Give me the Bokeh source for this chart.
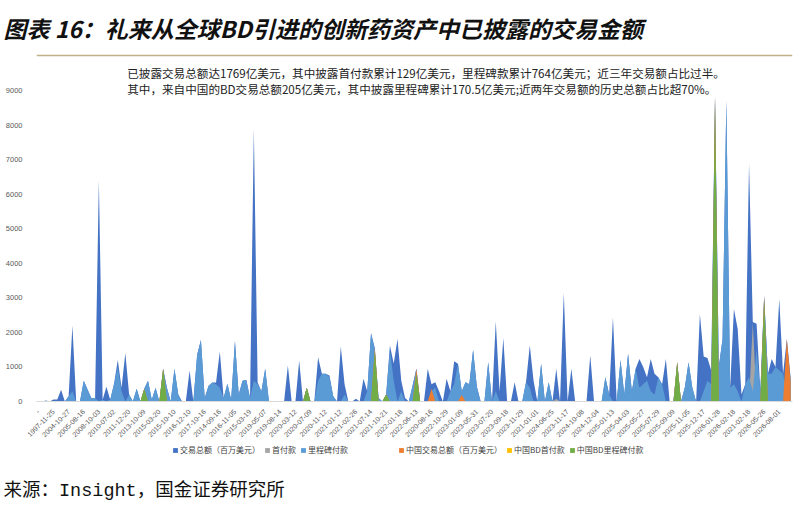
import math
from bokeh.plotting import figure
from bokeh.layouts import column
from bokeh.models import (Range1d, FixedTicker, Legend, LegendItem, Label, Title,
                          Span, ColumnDataSource)
from bokeh.embed import file_html
from bokeh.resources import INLINE

# ---------------- data ----------------
tick_labels = [
    "-", "1997-11-25", "2004-10-27", "2005-08-16", "2008-10-03", "2010-07-02",
    "2011-12-20", "2013-10-09", "2015-03-20", "2015-10-10", "2016-12-10",
    "2017-10-16", "2014-09-16", "2016-11-05", "2015-03-19", "2019-05-07",
    "2019-08-14", "2020-03-12", "2020-07-09", "2020-11-12", "2021-01-12",
    "2021-02-26", "2021-07-14", "2021-10-21", "2022-01-18", "2022-06-13",
    "2020-08-16", "2022-10-29", "2023-01-09", "2023-05-31", "2023-07-20",
    "2023-09-18", "2023-11-29", "2021-01-01", "2024-06-25", "2023-11-17",
    "2024-10-08", "2024-12-04", "2025-01-13", "2025-04-03", "2025-05-27",
    "2025-07-29", "2025-09-09", "2025-11-05", "2025-12-17", "2026-01-28",
    "2026-02-18", "2021-02-18", "2026-05-26", "2026-08-01",
]
LABEL_STEP = 4  # one date label every 4 deals

total = [
    0, 0, 30, 0, 60, 60, 340, 0, 150, 2200,
    0, 0, 600, 350, 100, 100, 6400, 50, 430, 50,
    500, 1200, 400, 1400, 200, 0, 370, 0, 370, 600,
    50, 400, 0, 950, 400, 0, 950, 200, 0, 0,
    900, 0, 1350, 1780, 100, 450, 550, 550, 1450, 100,
    510, 50, 1740, 200, 600, 625, 100, 7900, 550, 300,
    950, 0, 0, 0, 0, 0, 1040, 0, 0, 1185,
    0, 400, 0, 0, 1280, 800, 800, 750, 150, 0,
    1590, 500, 0, 0, 80, 0, 655, 300, 1975, 1550,
    100, 0, 200, 1620, 1100, 1810, 600, 100, 0, 460,
    945, 0, 0, 945, 500, 560, 300, 0, 655, 300,
    1165, 1090, 300, 560, 500, 1490, 430, 0, 0, 1135,
    0, 2320, 300, 1840, 0, 0, 560, 0, 0, 560,
    1620, 600, 0, 1090, 0, 560, 0, 945, 0, 3150,
    0, 945, 0, 0, 0, 0, 1330, 0, 0, 0,
    700, 200, 2440, 0, 1200, 200, 1380, 300, 945, 1230,
    1000, 700, 1230, 800, 700, 500, 1230, 0, 0, 1135,
    0, 400, 1135, 400, 0, 2530, 1300, 1260, 900, 8850,
    1000, 1810, 8700, 400, 2680, 2100, 200, 500, 6900, 2300,
    2250, 300, 3050, 800, 1230, 1000, 2965, 800, 1810, 700,
]

upfront = [
    0, 0, 0, 0, 0, 0, 0, 0, 0, 0,
    0, 0, 0, 0, 0, 0, 0, 0, 0, 0,
    0, 0, 0, 0, 0, 0, 0, 0, 0, 0,
    0, 0, 0, 0, 0, 0, 0, 0, 0, 0,
    0, 0, 0, 0, 0, 0, 0, 0, 0, 0,
    0, 0, 0, 0, 0, 0, 0, 0, 0, 0,
    0, 0, 0, 0, 0, 0, 0, 0, 0, 0,
    0, 0, 0, 0, 0, 0, 0, 0, 0, 0,
    0, 0, 0, 0, 0, 0, 0, 0, 0, 0,
    0, 0, 0, 0, 0, 0, 0, 0, 0, 0,
    0, 0, 0, 0, 0, 0, 0, 0, 0, 0,
    0, 0, 0, 0, 0, 0, 0, 0, 0, 0,
    0, 0, 0, 0, 0, 0, 0, 0, 0, 0,
    0, 0, 0, 0, 0, 0, 0, 80, 0, 0,
    0, 0, 0, 0, 0, 0, 0, 0, 0, 0,
    0, 0, 0, 0, 0, 0, 0, 0, 0, 0,
    0, 0, 0, 0, 0, 0, 0, 0, 0, 0,
    0, 0, 0, 0, 0, 0, 0, 0, 0, 0,
    0, 0, 0, 150, 0, 0, 0, 0, 0, 2290,
    0, 0, 0, 0, 0, 0, 0, 0, 0, 0,
]

milestone = [
    0, 0, 0, 0, 0, 0, 0, 0, 150, 300,
    0, 0, 600, 350, 100, 100, 0, 50, 0, 50,
    500, 1000, 300, 0, 200, 0, 370, 0, 370, 600,
    50, 400, 0, 950, 400, 0, 950, 200, 0, 0,
    0, 0, 1350, 1780, 100, 450, 550, 500, 400, 100,
    510, 50, 1740, 200, 600, 625, 100, 600, 500, 300,
    950, 0, 0, 0, 0, 0, 0, 0, 0, 0,
    0, 400, 0, 0, 600, 800, 800, 700, 150, 0,
    0, 200, 0, 0, 0, 0, 0, 300, 1975, 1500,
    100, 0, 200, 1500, 600, 0, 300, 0, 0, 460,
    945, 0, 0, 0, 300, 400, 0, 0, 0, 300,
    500, 1090, 300, 560, 500, 1490, 430, 0, 0, 1135,
    0, 300, 0, 0, 0, 0, 0, 0, 0, 560,
    400, 0, 0, 1090, 0, 560, 0, 0, 0, 0,
    0, 0, 0, 0, 0, 0, 0, 0, 0, 0,
    700, 200, 0, 0, 1200, 200, 1380, 300, 945, 400,
    500, 600, 300, 200, 700, 500, 0, 0, 0, 1135,
    0, 400, 1135, 400, 0, 0, 300, 600, 500, 8850,
    1000, 1810, 8700, 400, 500, 300, 0, 500, 700, 300,
    1500, 300, 3050, 800, 800, 1000, 900, 800, 300, 700,
]

cn_total = [
    0, 0, 0, 0, 0, 0, 0, 0, 0, 0,
    0, 0, 0, 0, 0, 0, 0, 0, 0, 0,
    0, 0, 0, 0, 0, 0, 0, 0, 370, 0,
    0, 0, 0, 950, 0, 0, 0, 0, 0, 0,
    0, 0, 0, 0, 0, 0, 0, 0, 0, 0,
    0, 0, 0, 0, 0, 0, 0, 0, 0, 0,
    0, 0, 0, 0, 0, 0, 0, 0, 0, 0,
    0, 400, 0, 0, 0, 0, 0, 0, 0, 0,
    0, 0, 0, 0, 0, 0, 0, 0, 0, 1550,
    0, 0, 200, 0, 0, 0, 0, 0, 0, 0,
    945, 0, 0, 0, 366, 0, 0, 0, 0, 0,
    0, 0, 190, 0, 0, 0, 0, 0, 0, 0,
    0, 0, 0, 0, 0, 0, 0, 0, 0, 0,
    0, 0, 0, 0, 0, 0, 0, 0, 0, 0,
    0, 0, 0, 0, 0, 0, 0, 0, 0, 0,
    0, 0, 0, 0, 0, 0, 0, 0, 0, 0,
    0, 0, 0, 0, 0, 0, 0, 0, 0, 1135,
    0, 0, 0, 0, 0, 0, 0, 0, 0, 8850,
    0, 0, 0, 0, 0, 0, 0, 0, 0, 0,
    0, 0, 3050, 0, 0, 0, 0, 0, 1810, 600,
]

cn_upfront = [
    0, 0, 0, 0, 0, 0, 0, 0, 0, 0,
    0, 0, 0, 0, 0, 0, 0, 0, 0, 0,
    0, 0, 0, 0, 0, 0, 0, 0, 0, 0,
    0, 0, 0, 0, 0, 0, 0, 0, 0, 0,
    0, 0, 0, 0, 0, 0, 0, 0, 0, 0,
    0, 0, 0, 0, 0, 0, 0, 0, 0, 0,
    0, 0, 0, 0, 0, 0, 0, 0, 0, 0,
    0, 0, 0, 0, 0, 0, 0, 0, 0, 0,
    0, 0, 0, 0, 0, 0, 0, 0, 0, 0,
    0, 0, 0, 0, 0, 0, 0, 0, 0, 0,
    0, 0, 0, 0, 0, 0, 0, 0, 0, 0,
    0, 0, 0, 0, 0, 0, 0, 0, 0, 0,
    0, 0, 0, 0, 0, 0, 0, 0, 0, 0,
    0, 0, 0, 0, 0, 0, 0, 0, 0, 0,
    0, 0, 0, 0, 0, 0, 0, 0, 0, 0,
    0, 0, 0, 0, 0, 0, 0, 0, 0, 0,
    0, 0, 0, 0, 0, 0, 0, 0, 0, 0,
    0, 0, 0, 0, 0, 0, 0, 0, 0, 0,
    0, 0, 0, 0, 0, 0, 0, 0, 0, 0,
    0, 0, 0, 0, 0, 0, 0, 0, 0, 0,
]

cn_milestone = [
    0, 0, 0, 0, 0, 0, 0, 0, 0, 0,
    0, 0, 0, 0, 0, 0, 0, 0, 0, 0,
    0, 0, 0, 0, 0, 0, 0, 0, 370, 0,
    0, 0, 0, 950, 0, 0, 0, 0, 0, 0,
    0, 0, 0, 0, 0, 0, 0, 0, 0, 0,
    0, 0, 0, 0, 0, 0, 0, 0, 0, 0,
    0, 0, 0, 0, 0, 0, 0, 0, 0, 0,
    0, 400, 0, 0, 0, 0, 0, 0, 0, 0,
    0, 0, 0, 0, 0, 0, 0, 0, 0, 1475,
    0, 0, 200, 0, 0, 0, 0, 0, 0, 0,
    800, 0, 0, 0, 0, 0, 0, 0, 0, 0,
    0, 0, 0, 0, 0, 0, 0, 0, 0, 0,
    0, 0, 0, 0, 0, 0, 0, 0, 0, 0,
    0, 0, 0, 0, 0, 0, 0, 0, 0, 0,
    0, 0, 0, 0, 0, 0, 0, 0, 0, 0,
    0, 0, 0, 0, 0, 0, 0, 0, 0, 0,
    0, 0, 0, 0, 0, 0, 0, 0, 0, 1135,
    0, 0, 0, 0, 0, 0, 0, 0, 0, 8700,
    0, 0, 0, 0, 0, 0, 0, 0, 0, 0,
    0, 0, 2950, 0, 0, 0, 0, 0, 0, 0,
]

series_names = ["交易总额（百万美元）", "首付款", "里程碑付款",
                "中国交易总额（百万美元）", "中国BD首付款", "中国BD里程碑付款"]
series_keys = ["total", "upfront", "milestone", "cn_total", "cn_upfront", "cn_milestone"]
series_colors = ["#4472C4", "#A5A5A5", "#5B9BD5", "#ED7D31", "#FFC000", "#70AD47"]

title_text = "图表 16：礼来从全球BD引进的创新药资产中已披露的交易金额"
note_lines = [
    "已披露交易总额达1769亿美元，其中披露首付款累计129亿美元，里程碑款累计764亿美元；近三年交易额占比过半。",
    "其中，来自中国的BD交易总额205亿美元，其中披露里程碑累计170.5亿美元;近两年交易额的历史总额占比超70%。",
]
source_text = "来源：Insight，国金证券研究所"
y_ticks = [0, 1000, 2000, 3000, 4000, 5000, 6000, 7000, 8000, 9000]

# ---------------- build ----------------
n = len(total)
for s in (upfront, milestone, cn_total, cn_upfront, cn_milestone):
    assert len(s) == n
xs = list(range(n))
src = ColumnDataSource(dict(x=xs, total=total, upfront=upfront, milestone=milestone,
                            cn_total=cn_total, cn_upfront=cn_upfront,
                            cn_milestone=cn_milestone))

FONT = "Noto Sans CJK SC"
W = 803
H1 = 443
BL, BR = 36, 11

# ---- main chart ----
p = figure(width=W, height=H1,
           x_range=Range1d(-0.5, n - 0.5), y_range=Range1d(0, 10069),
           output_backend="svg", toolbar_location=None,
           min_border_left=BL, min_border_right=BR,
           min_border_top=53, min_border_bottom=H1 - 401)
p.grid.visible = False
p.outline_line_color = None

for key, col in zip(series_keys, series_colors):
    p.varea(x="x", y1=0, y2=key, source=src, fill_color=col, fill_alpha=1.0)

yax = p.yaxis[0]
yax.ticker = FixedTicker(ticks=y_ticks)
yax.axis_line_color = None
yax.major_tick_line_color = None
yax.minor_tick_line_color = None
yax.major_label_text_font_size = "7.5px"
yax.major_label_text_color = "#595959"
yax.major_label_standoff = 8

xax = p.xaxis[0]
tick_pos = [i * LABEL_STEP for i in range(len(tick_labels))]
xax.ticker = FixedTicker(ticks=tick_pos)
xax.major_label_overrides = {t: lab for t, lab in zip(tick_pos, tick_labels)}
xax.major_label_orientation = math.pi / 4
xax.major_label_text_font_size = "7px"
xax.major_label_text_color = "#595959"
xax.axis_line_color = "#D9D9D9"
xax.major_tick_line_color = None
xax.minor_tick_line_color = None
xax.major_label_standoff = 3

p.title.text = title_text
p.title.text_font = FONT
p.title.text_font_size = "23px"
p.title.text_font_style = "bold italic"
p.title.text_color = "#111111"
p.title.align = "left"
p.title.vertical_align = "top"
p.title.offset = -33
p.title.standoff = 14

p.add_layout(Span(location=10010, dimension="width", line_color="#C2B088", line_width=1.5))

for k, line in enumerate(note_lines):
    p.add_layout(Label(x=23.5, y=9519 - k * 463, text=line, text_font=FONT,
                       text_font_size="11.6px", text_baseline="middle",
                       text_color="#222222"))

# ---- legend + source strip (frame aligned with the chart above) ----
# the strip shows the same series, but its x range lies beyond the data, so
# only their legend swatches are visible here
QF = 34          # strip frame height (legend row)
QB = 31          # strip bottom border (source line)
q = figure(width=W, height=QF + QB,
           x_range=Range1d(n + 1000, n + 1000 + (W - BL - BR)), y_range=Range1d(0, QF),
           output_backend="svg", toolbar_location=None,
           min_border_left=BL, min_border_right=BR,
           min_border_top=0, min_border_bottom=QB,
           x_axis_type=None, y_axis_type=None)
q.grid.visible = False
q.outline_line_color = None
swatches = [q.varea(x="x", y1=0, y2=key, source=src, fill_color=c, fill_alpha=1.0)
            for key, c in zip(series_keys, series_colors)]


def make_legend(idx, loc):
    return Legend(items=[LegendItem(label=series_names[i], renderers=[swatches[i]])
                         for i in idx],
                  orientation="horizontal", location=loc,
                  label_text_font=FONT, label_text_font_size="8px",
                  label_text_color="#404040", label_height=10,
                  glyph_width=6, glyph_height=6, label_standoff=2, spacing=4,
                  padding=0, margin=0, border_line_color=None,
                  background_fill_alpha=0)


q.add_layout(make_legend([0, 1, 2], (172 - BL, 22)))
q.add_layout(make_legend([3, 4, 5], (398 - BL, 22)))

q.add_layout(Title(text=source_text, align="left", offset=3 - BL,
                   text_font="Liberation Mono, Noto Sans CJK SC",
                   text_font_size="18.5px", text_font_style="normal",
                   text_color="#111111", standoff=2), "below")

layout = column(p, q, spacing=0)
open("out.html", "w").write(file_html(layout, INLINE))
